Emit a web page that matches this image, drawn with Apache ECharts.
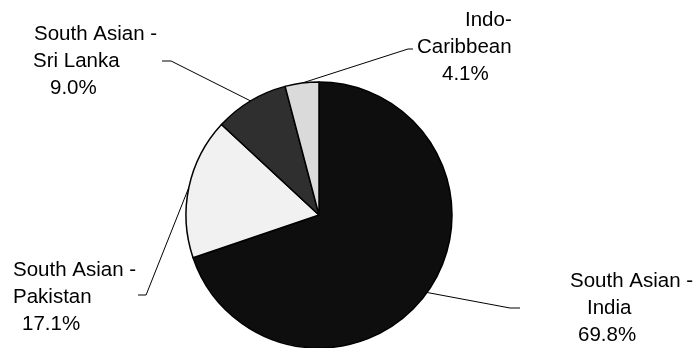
<!DOCTYPE html>
<html>
<head>
<meta charset="utf-8">
<script src="https://cdn.jsdelivr.net/npm/echarts@6/dist/echarts.min.js"></script>
<style>
  html, body { margin: 0; padding: 0; background: #fff; }
  #chart { width: 695px; height: 348px; }
</style>
</head>
<body>
<div id="chart"></div>
<script>
// Ethnic origin breakdown (share of total, %)
const categories = [
  'South Asian - India',
  'South Asian - Pakistan',
  'South Asian - Sri Lanka',
  'Indo-Caribbean'
];
const shares = [69.8, 17.1, 9.0, 4.1];

// How each category name is broken over two lines
const nameLines = [
  ['South Asian -', 'India'],
  ['South Asian -', 'Pakistan'],
  ['South Asian -', 'Sri Lanka'],
  ['Indo-', 'Caribbean']
];

// Slice fills
const fills = ['#0e0e0e', '#f1f1f1', '#2f2f2f', '#dadada'];

// Label block placement (left/top of text block), per-line indents,
// which side the leader attaches to, gap between tick and text, tick length
const labelBoxes = [
  { x: 570, y: 268, indent: [0, 17, 8], side: 'left', gap: 50, tick: 10, dy: 40 },
  { x: 13, y: 257, indent: [0, 0, 9], side: 'right', gap: 2, tick: 8, dy: 38 },
  { x: 33, y: 21, indent: [1, 0, 17], side: 'right', gap: 5, tick: 9, dy: 40 },
  { x: 417, y: 7, indent: [48, 0, 25], side: 'left', gap: 4, tick: 5, dy: 42 }
];

const chart = echarts.init(document.getElementById('chart'), null, { renderer: 'canvas' });

const rich = {};
labelBoxes.forEach((b, i) => {
  b.indent.forEach((p, j) => {
    rich['l' + i + j] = { padding: [0, 0, 0, p], align: 'left' };
  });
});

chart.setOption({
  animation: false,
  backgroundColor: '#fff',
  series: [{
    type: 'pie',
    center: [319, 215],
    radius: 133,
    startAngle: 90,
    clockwise: true,
    data: categories.map((c, i) => ({ name: c, value: shares[i], itemStyle: { color: fills[i] } })),
    itemStyle: { borderColor: '#000', borderWidth: 1.5 },
    label: {
      show: true,
      position: 'outside',
      color: '#000',
      fontFamily: '"Liberation Sans", Arial, sans-serif',
      fontSize: 20.5,
      lineHeight: 27,
      align: 'left',
      formatter: (p) => {
        const i = p.dataIndex;
        const lines = [nameLines[i][0], nameLines[i][1], shares[i].toFixed(1) + '%'];
        return lines.map((t, j) => '{l' + i + j + '|' + t + '}').join('\n');
      },
      rich: rich
    },
    labelLine: {
      show: true,
      length: 20,
      length2: 10,
      lineStyle: { color: '#000', width: 1 }
    },
    labelLayout: (params) => {
      const b = labelBoxes[params.dataIndex];
      const start = params.labelLinePoints[0];
      const w = params.labelRect.width;
      // leader runs from the slice edge to a short horizontal tick beside the text
      const midY = b.y + b.dy;
      let end, elbow;
      if (b.side === 'right') {
        end = [b.x + w + b.gap, midY];
        elbow = [end[0] + b.tick, midY];
      } else {
        end = [b.x - b.gap, midY];
        elbow = [end[0] - b.tick, midY];
      }
      return {
        x: b.x,
        y: b.y,
        align: 'left',
        verticalAlign: 'top',
        labelLinePoints: [start, elbow, end]
      };
    }
  }]
});
</script>
</body>
</html>
